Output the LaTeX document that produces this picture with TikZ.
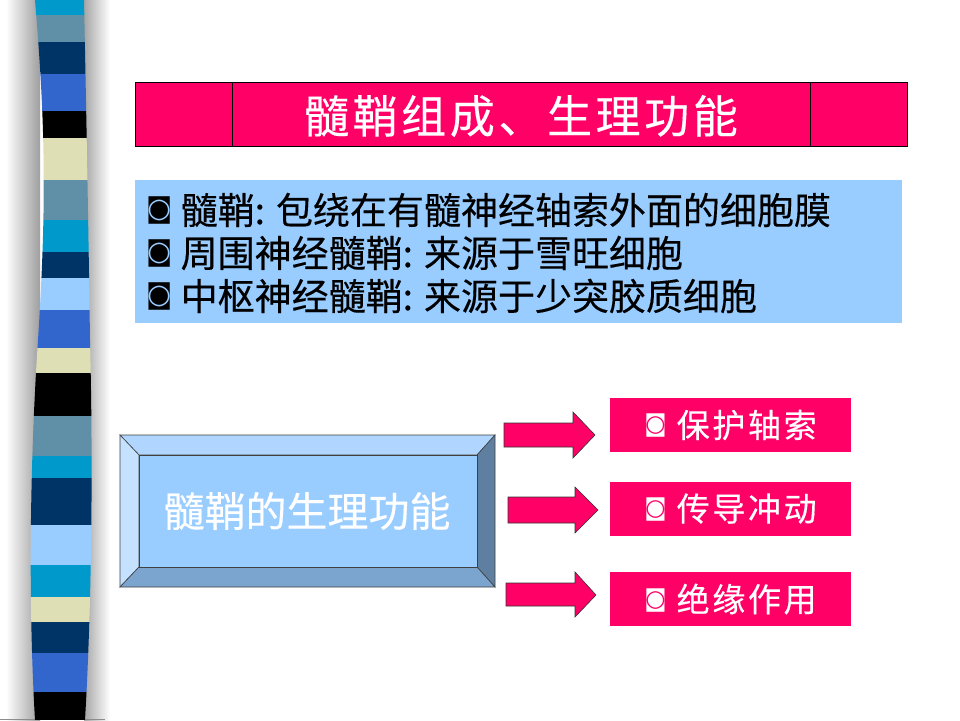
\documentclass[tikz,border=0pt]{standalone}
\usepackage{fontspec}
\newfontfamily\cjk[FakeBold=0.3]{Noto Sans CJK SC}
\newfontfamily\cjkt[LetterSpace=8,FakeBold=0.3]{Noto Sans CJK SC}
\newfontfamily\cjkw[LetterSpace=8,FakeBold=0.3]{Noto Sans CJK SC}
\newfontfamily\dv{DejaVu Sans}
\newcommand\bull[2]{\smash{\raisebox{#2}{\dv\fontsize{#1}{#1}\selectfont ◙}}}
\definecolor{pk}{HTML}{FF0066}
\definecolor{lb}{HTML}{99CCFF}
\definecolor{cy}{HTML}{0099CC}
\definecolor{st}{HTML}{5F90A8}
\definecolor{nv}{HTML}{003366}
\definecolor{rb}{HTML}{3366CC}
\definecolor{bg}{HTML}{DFDFB6}
\definecolor{bvtop}{HTML}{B0D6FF}
\definecolor{bvleft}{HTML}{C4E1FF}
\definecolor{bvright}{HTML}{5F7FA0}
\definecolor{bvbot}{HTML}{7BA4CE}
\tikzset{
  blockarrow/.style={fill=pk,draw=black!80,line width=0.6pt,line join=miter},
  pinkbox/.style={fill=pk,draw=none,minimum width=241pt,minimum height=54pt,inner sep=0pt,text=white,font=\cjkw\fontsize{33}{38}\selectfont},
  bluetext/.style={anchor=west,inner sep=0pt,font=\cjk\fontsize{37}{44}\selectfont}
}
\begin{document}
\begin{tikzpicture}[x=1pt,y=-1pt]
\useasboundingbox (0,0) rectangle (960,720);
\fill[white] (0,0) rectangle (960,720);
% shadow around strip
\shade[left color=white,right color=black!38] (6,0) rectangle (40,720);
\shade[left color=black!35,right color=white] (84,0) rectangle (110,720);
\draw[black!45,line width=1pt] (0,719) -- (105,719);
% strip
\begin{scope}
\path[clip] (35,0) .. controls (45,120) and (47,200) .. (38,340) .. controls (30,460) and (28,600) .. (35,720) -- (85,720) .. controls (92,600) and (93,460) .. (90,340) .. controls (88,200) and (86,100) .. (84,0) -- cycle;
\foreach \a/\b/\c in {0/15/cy,15/42/st,42/74/nv,74/111/rb,111/138/black,138/180/bg,180/220/st,220/252/cy,252/278/nv,278/310/lb,310/348/rb,348/373/bg,373/416/black,416/456/st,456/478/cy,478/525/nv,525/565/lb,565/597/cy,597/622/bg,622/653/nv,653/692/rb,692/720/black}
  \fill[\c] (20,\a) rectangle (100,\b);
\end{scope}
% title bar
\draw[fill=pk,line width=1pt] (135,82) rectangle (907,146);
\draw[line width=1pt] (232,82) -- (232,146) (810,82) -- (810,146);
\node[text=white,inner sep=0pt,font=\cjkt\fontsize{45}{50}\selectfont] (title) at (521,116) {髓鞘组成、生理功能};
% blue info box
\fill[lb] (135,180) rectangle (902,323);
\node[bluetext] (l1) at (146,210) {\bull{27}{6.2pt} 髓鞘: 包绕在有髓神经轴索外面的细胞膜};
\node[bluetext] (l2) at (146,253) {\bull{27}{6.2pt} 周围神经髓鞘: 来源于雪旺细胞};
\node[bluetext] (l3) at (146,296) {\bull{27}{6.2pt} 中枢神经髓鞘: 来源于少突胶质细胞};
% bevel box
\begin{scope}[draw=black!75,line width=0.6pt]
\filldraw[fill=bvtop] (120,435) -- (495,435) -- (477,455) -- (139,455) -- cycle;
\filldraw[fill=bvleft] (120,435) -- (139,455) -- (139,567) -- (120,587) -- cycle;
\filldraw[fill=bvright] (495,435) -- (495,587) -- (477,567) -- (477,455) -- cycle;
\filldraw[fill=bvbot] (120,587) -- (139,567) -- (477,567) -- (495,587) -- cycle;
\filldraw[fill=lb] (139,455) rectangle (477,567);
\end{scope}
\node[text=white,inner sep=0pt,font=\cjk\fontsize{41}{46}\selectfont] (func) at (307,511) {髓鞘的生理功能};
% arrows
\draw[blockarrow] (504,423) -- (573,423) -- (573,412) -- (595,435) -- (573,458) -- (573,447) -- (504,447) -- cycle;
\draw[blockarrow] (508,497) -- (575,497) -- (575,487) -- (598,510) -- (575,533) -- (575,523) -- (508,523) -- cycle;
\draw[blockarrow] (506,583) -- (575,583) -- (575,572) -- (596,595) -- (575,617) -- (575,606) -- (506,606) -- cycle;
% pink boxes
\node[pinkbox] (p1) at (730.5,425) {\bull{23}{5.6pt} 保护轴索};
\node[pinkbox] (p2) at (730.5,508.5) {\bull{23}{5.6pt} 传导冲动};
\node[pinkbox] (p3) at (730.5,599) {\bull{23}{5.6pt} 绝缘作用};
\end{tikzpicture}
\end{document}
